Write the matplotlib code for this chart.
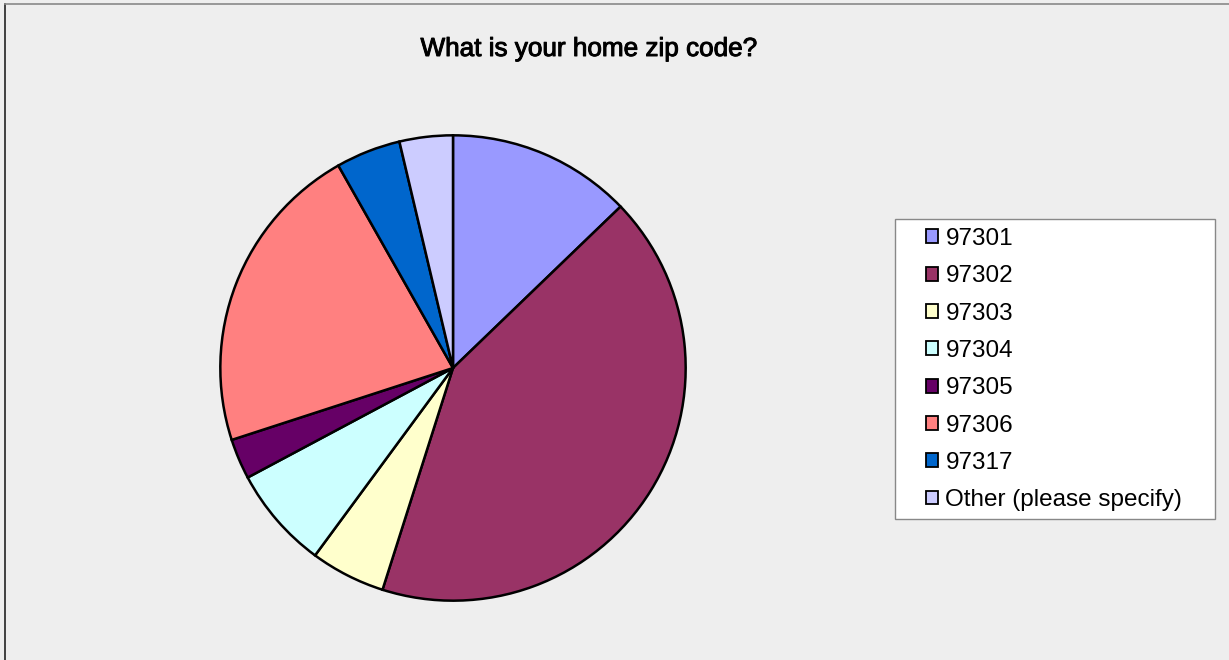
import matplotlib.pyplot as plt
import matplotlib.patheffects as pe
from matplotlib.lines import Line2D
from matplotlib.patches import Rectangle

plt.rcParams['font.family'] = ['Liberation Sans', 'DejaVu Sans']

# survey answers, share of respondents (%)
zips = ['97301', '97302', '97303', '97304', '97305', '97306', '97317', 'Other (please specify)']
shares = [12.8, 42.1, 5.2, 7.1, 2.8, 21.8, 4.5, 3.7]
colors = ['#9999FF', '#993366', '#FFFFCC', '#CCFFFF', '#660066', '#FF8080', '#0066CC', '#CCCCFF']

W, H = 1229, 660
fig = plt.figure(figsize=(W / 100, H / 100), dpi=100)
fig.patch.set_facecolor('#EEEEEE')

# pie placed by pixel centre/radius
cx, cy, r = 453, 368, 235
ax = fig.add_axes([(cx - r) / W, (H - cy - r) / H, 2 * r / W, 2 * r / H])
ax.pie(shares, colors=colors, startangle=90, counterclock=False,
       wedgeprops=dict(edgecolor='black', linewidth=1.8))
ax.set_xlim(-1.01, 1.01)
ax.set_ylim(-1.01, 1.01)
ax.set_aspect('equal')
ax.axis('off')

fig.text(589 / W, 1 - 49 / H, 'What is your home zip code?', ha='center', va='center',
         fontsize=18.8, path_effects=[pe.withStroke(linewidth=0.7, foreground='black')])

# outer frame lines (left and top)
fig.add_artist(Line2D([5 / W, 5 / W], [0, 1 - 4 / H], color='#222222', lw=1.2))
fig.add_artist(Line2D([5 / W, 1], [1 - 4 / H, 1 - 4 / H], color='#888888', lw=1.2))

# legend box drawn separately so the padding can match
fig.add_artist(Rectangle((895 / W, 1 - 519 / H), 320 / W, 300 / H, transform=fig.transFigure,
                         facecolor='white', edgecolor='#888888', lw=1.0, zorder=1))
handles = [plt.Rectangle((0, 0), 1, 1, facecolor=c, edgecolor='black', lw=1.3) for c in colors]
leg = fig.legend(handles, zips, loc='upper left',
                 bbox_to_anchor=(926 / W, 1 - 228 / H),
                 fontsize=17.5, frameon=False, handlelength=0.5,
                 handleheight=0.5, handletextpad=0.3, labelspacing=0.63,
                 borderpad=0, borderaxespad=0)
leg.set_zorder(2)

fig.savefig('out.png', dpi=100, facecolor=fig.get_facecolor())
